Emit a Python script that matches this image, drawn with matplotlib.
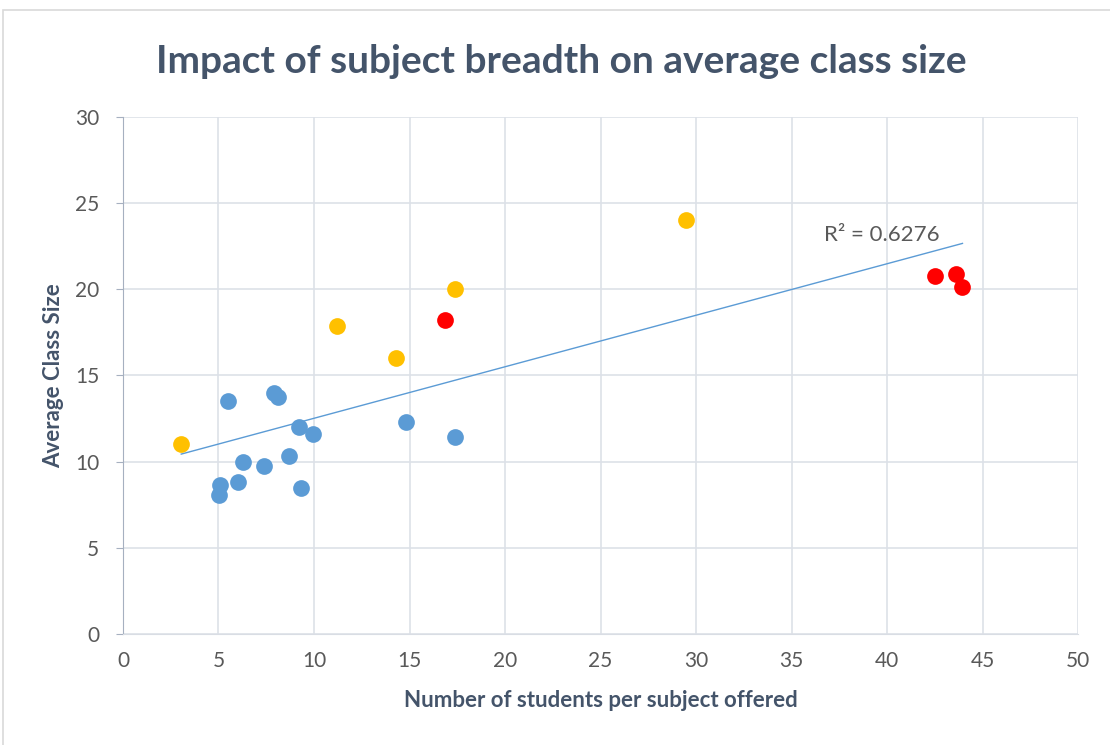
import numpy as np
import matplotlib
matplotlib.use("Agg")
import matplotlib.pyplot as plt
from matplotlib.patches import Rectangle

plt.rcParams['font.family'] = ['Lato', 'DejaVu Sans']

# data
blue_x = [5.5, 7.9, 8.1, 9.2, 9.95, 14.8, 17.4, 8.7, 6.3, 7.4, 6.0, 5.1, 5.05, 9.3]
blue_y = [13.5, 14.0, 13.75, 12.0, 11.6, 12.3, 11.45, 10.35, 10.0, 9.75, 8.8, 8.65, 8.05, 8.5]
yellow_x = [3.05, 11.2, 14.3, 17.4, 29.45]
yellow_y = [11.0, 17.9, 16.0, 20.0, 24.0]
red_x = [16.85, 42.5, 43.6, 43.95]
red_y = [18.2, 20.8, 20.9, 20.15]
r2_text = "R² = 0.6276"

text_col = '#595959'
title_col = '#44546A'

fig = plt.figure(figsize=(11.1, 7.45), dpi=100)
ax = fig.add_axes([0.1108, 0.149, 0.8604, 0.694])

# chart border
fig.patches.append(Rectangle((3/1110, -0.1), 2, 1.1 - 10/745, transform=fig.transFigure,
                             fill=False, edgecolor='#D9D9D9', lw=1.2))

ms = 145
ax.scatter(blue_x, blue_y, s=ms, color='#5B9BD5', zorder=3, linewidths=0)
ax.scatter(yellow_x, yellow_y, s=ms, color='#FFC000', zorder=3, linewidths=0)
ax.scatter(red_x, red_y, s=ms, color='#FF0000', zorder=3, linewidths=0)

# linear trendline over all points
all_x = np.array(blue_x + yellow_x + red_x)
all_y = np.array(blue_y + yellow_y + red_y)
k, b = np.polyfit(all_x, all_y, 1)
xs = np.array([all_x.min(), all_x.max()])
ax.plot(xs, k*xs + b, color='#5B9BD5', lw=1, zorder=2)
ax.text(36.7, 22.55, r2_text, fontsize=16, color=text_col, ha='left', va='bottom')

ax.set_xlim(0, 50)
ax.set_ylim(0, 30)
ax.set_xticks(range(0, 51, 5))
ax.set_yticks(range(0, 31, 5))
ax.grid(True, color='#DDE1E8', lw=1.2)
ax.set_axisbelow(True)
for s in ['top', 'right']:
    ax.spines[s].set_visible(False)
ax.spines['left'].set_color('#A6B0C0')
ax.spines['bottom'].set_color('#D9DDE4')
ax.tick_params(axis='y', colors='#A6B0C0', labelcolor=text_col, labelsize=15, length=5, pad=12)
ax.tick_params(axis='x', length=0, labelcolor=text_col, labelsize=15, pad=12)

ax.set_xlabel('Number of students per subject offered', fontsize=16, fontweight='bold',
              color=title_col, labelpad=14)
ax.set_ylabel('Average Class Size', fontsize=16, fontweight='bold', color=title_col, labelpad=8)
fig.text(0.506, 0.918, 'Impact of subject breadth on average class size', ha='center', va='center',
         fontsize=28, fontweight='bold', color=title_col)

fig.savefig('out.png', dpi=100)
